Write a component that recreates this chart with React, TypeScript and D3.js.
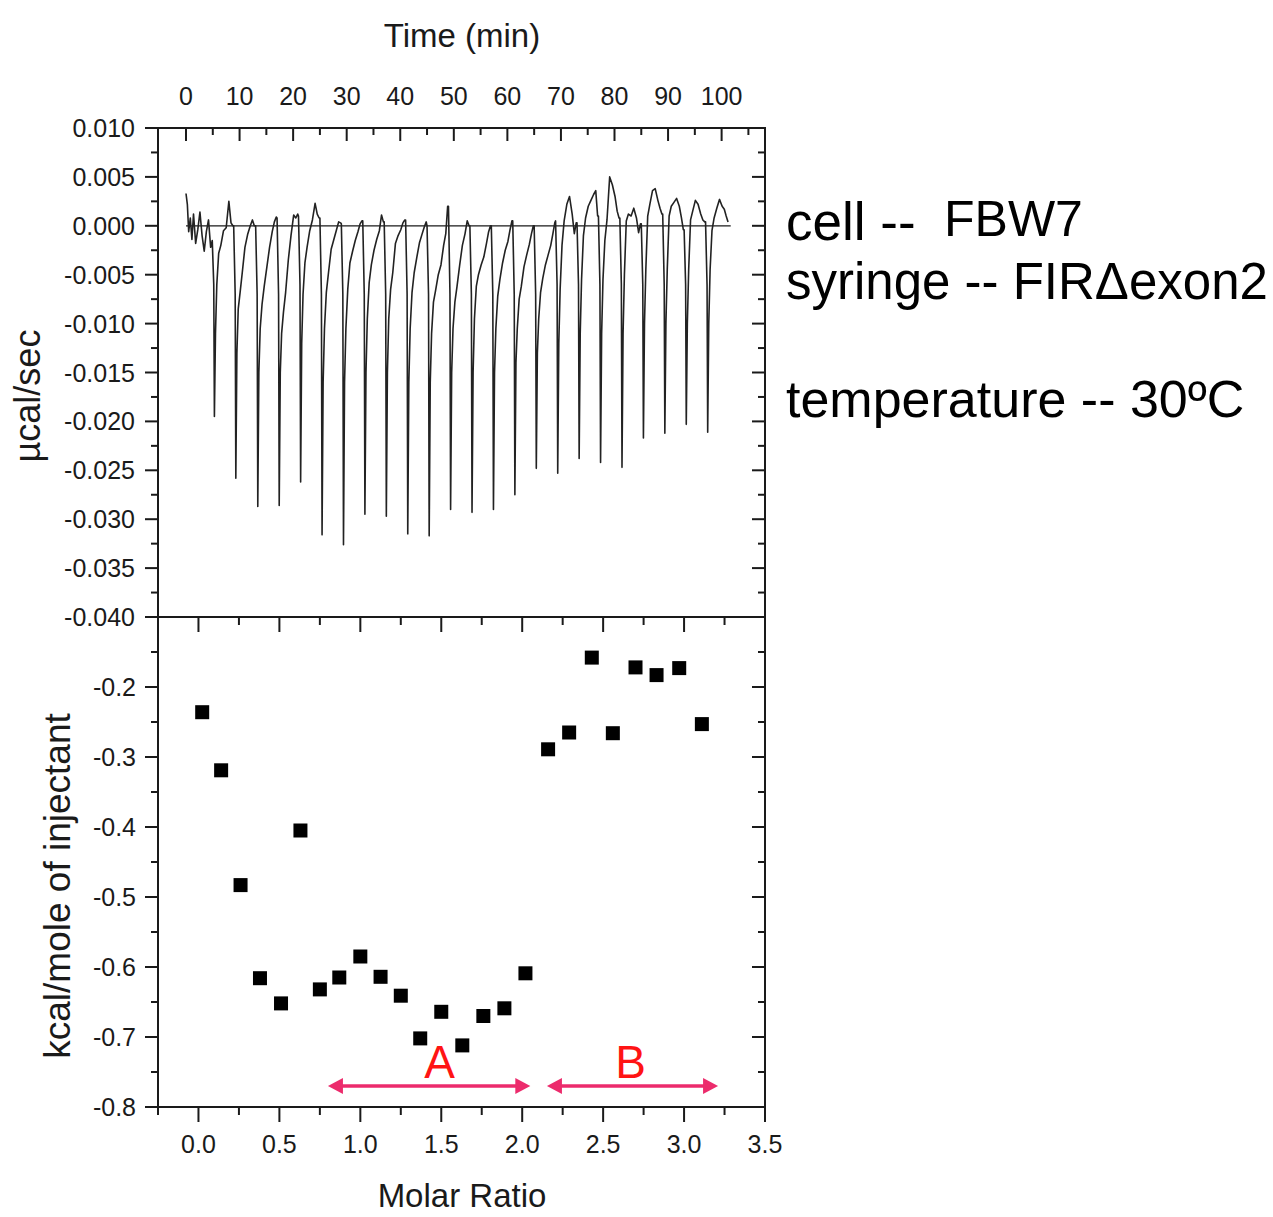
import { useEffect, useRef } from "react";
import * as d3 from "d3";

const WIDTH = 1273;
const HEIGHT = 1217;
const FONT = "'Liberation Sans', Arial, Helvetica, sans-serif";

// injection peak times (min)
const injectionTimes = [5.3, 9.3, 13.4, 17.4, 21.4, 25.4, 29.4, 33.4, 37.4, 41.4, 45.4, 49.4,
    53.4, 57.4, 61.4, 65.4, 69.4, 73.4, 77.4, 81.4, 85.4, 89.4, 93.4, 97.4];

// sample times relative to each injection peak (min)
const sampleOffsets = [-0.4, -0.12, 0, 0.2, 0.45, 0.8, 1.2, 1.7, 2.2, 2.7, 3.1, 3.45];

// µcal/sec at those offsets, one row per injection
const injectionTraces = [
    [-0.0015, -0.006, -0.0195, -0.011, -0.006, -0.0028, -0.002, -0.0005, -0.0002, 0.0025, 0.0003, 0.0],
    [0.0, -0.007, -0.0258, -0.013, -0.0085, -0.0068, -0.0048, -0.0022, -0.0009, 0.0, 0.0006, 0.0],
    [0.0, -0.007, -0.0287, -0.015, -0.0105, -0.008, -0.0062, -0.0042, -0.0022, -0.0006, 0.0004, 0.0009],
    [0.0008, -0.007, -0.0286, -0.015, -0.011, -0.0088, -0.0068, -0.0035, -0.001, 0.0011, 0.0008, 0.0012],
    [0.001, -0.006, -0.0262, -0.012, -0.007, -0.0038, -0.0022, -0.0005, 0.0006, 0.0023, 0.0012, 0.0008],
    [0.0008, -0.007, -0.0316, -0.016, -0.0105, -0.0068, -0.0048, -0.0024, -0.0014, -0.0004, 0.0004, 0.0003],
    [0.0002, -0.007, -0.0326, -0.016, -0.0105, -0.0065, -0.0038, -0.0026, -0.0015, -0.0006, 0.0002, 0.0005],
    [0.0005, -0.007, -0.0295, -0.015, -0.0095, -0.0058, -0.004, -0.0025, -0.0014, -0.0005, 0.0011, 0.0004],
    [0.0004, -0.007, -0.0297, -0.015, -0.0095, -0.0065, -0.0048, -0.0018, -0.001, -0.0004, 0.0003, 0.0006],
    [0.0006, -0.007, -0.0315, -0.016, -0.0105, -0.0068, -0.0048, -0.0032, -0.0017, -0.0008, -0.0001, 0.0004],
    [0.0, -0.007, -0.0317, -0.016, -0.011, -0.0078, -0.0066, -0.005, -0.004, -0.002, -0.0008, 0.002],
    [0.002, -0.007, -0.029, -0.015, -0.0105, -0.0078, -0.0062, -0.004, -0.002, -0.0008, 0.0005, 0.0],
    [0.0, -0.007, -0.0293, -0.015, -0.0095, -0.0062, -0.005, -0.004, -0.0032, -0.0018, -0.0006, 0.0],
    [0.0, -0.007, -0.029, -0.015, -0.0105, -0.0072, -0.0055, -0.0038, -0.0025, -0.0016, -0.0004, 0.0005],
    [0.0005, -0.007, -0.0275, -0.014, -0.0105, -0.0075, -0.0062, -0.0042, -0.003, -0.0019, -0.0008, 0.0],
    [0.0, -0.007, -0.0248, -0.013, -0.0095, -0.0068, -0.0054, -0.004, -0.003, -0.002, -0.0008, 0.0003],
    [0.0005, -0.006, -0.0253, -0.012, -0.0065, -0.002, 0.0005, 0.0022, 0.003, 0.0012, -0.0008, 0.0003],
    [0.0003, -0.006, -0.0238, -0.011, -0.0055, -0.001, 0.0008, 0.002, 0.0026, 0.0032, 0.0036, 0.001],
    [0.001, -0.006, -0.0242, -0.011, -0.0055, -0.0015, 0.0006, 0.005, 0.0042, 0.003, 0.0015, 0.0008],
    [0.0008, -0.006, -0.0247, -0.011, -0.005, 0.0005, 0.0012, 0.001, 0.0018, 0.0008, -0.0007, 0.0002],
    [0.0002, -0.006, -0.0217, -0.01, -0.0045, 0.001, 0.0022, 0.0036, 0.0038, 0.0026, 0.0018, 0.0012],
    [0.0012, -0.006, -0.0212, -0.01, -0.0045, 0.001, 0.002, 0.0024, 0.0028, 0.002, 0.0008, -0.0004],
    [-0.0004, -0.006, -0.0203, -0.01, -0.0045, 0.0006, 0.0015, 0.0026, 0.0022, 0.0012, 0.0006, 0.0004],
    [0.0004, -0.006, -0.0211, -0.01, -0.0045, -0.0005, 0.0008, 0.0018, 0.0027, 0.002, 0.0017, 0.001],
];

// baseline before the first injection and after the last one
const leadIn: [number, number][] = [
    [0, 0.0033], [0.25, 0.0022], [0.5, -0.0006], [0.8, 0.0008], [1.1, -0.0014], [1.4, 0.0012],
    [1.8, -0.0018], [2.2, -0.0004], [2.6, 0.0014], [3.0, -0.001], [3.4, -0.0026], [3.8, -0.0006],
    [4.2, 0.0006], [4.6, -0.0022],
];
const tail: [number, number][] = [[101.2, 0.0004]];
const baselineSpan = [0, 101.7];

// integrated heats
const molarRatio = [0.023, 0.14, 0.26, 0.38, 0.51, 0.63, 0.75, 0.87, 1.0, 1.125, 1.25, 1.37, 1.5,
    1.63, 1.76, 1.89, 2.02, 2.16, 2.29, 2.43, 2.56, 2.7, 2.83, 2.97, 3.11];
const heatPerMole = [-0.236, -0.319, -0.483, -0.616, -0.652, -0.405, -0.632, -0.615, -0.585, -0.614,
    -0.641, -0.702, -0.664, -0.712, -0.67, -0.659, -0.609, -0.289, -0.265, -0.158, -0.266, -0.172,
    -0.183, -0.173, -0.253];

// annotated ranges A and B (molar ratio)
const regions = [
    {label: "A", from: 0.8, to: 2.05, labelAt: 1.49},
    {label: "B", from: 2.153, to: 3.21, labelAt: 2.67},
];
const regionArrowY = -0.77;

const timeTicks = [0, 10, 20, 30, 40, 50, 60, 70, 80, 90, 100];
const powerTicks = [0.01, 0.005, 0, -0.005, -0.01, -0.015, -0.02, -0.025, -0.03, -0.035, -0.04];
const ratioTicks = [0, 0.5, 1, 1.5, 2, 2.5, 3, 3.5];
const heatTicks = [-0.2, -0.3, -0.4, -0.5, -0.6, -0.7, -0.8];

// experiment notes on the right
const infoLines = [
    {text: "cell --", x: 786, y: 240, size: 53},
    {text: "FBW7", x: 944, y: 236, size: 50},
    {text: "syringe -- FIR\u0394exon2", x: 786, y: 299, size: 51},
    {text: "temperature -- 30\u00baC", x: 786, y: 417, size: 52},
];

const App = () => {
    const svgRef = useRef<SVGSVGElement>(null);

    useEffect(() => {
        const svg = d3.select(svgRef.current);
        svg.selectAll("*").remove();

        const left = 158, right = 765;
        const topY = 128, midY = 617, bottomY = 1107;
        const ink = "#1a1a1a";

        const x = d3.scaleLinear().domain([-5.23, 108.1]).range([left, right]);
        const yTop = d3.scaleLinear().domain([-0.04, 0.01]).range([midY, topY]);
        const xr = d3.scaleLinear().domain([-0.25, 3.5]).range([left, right]);
        const yBot = d3.scaleLinear().domain([-0.8, -0.1]).range([bottomY, midY]);

        const g = svg.append("g").attr("font-family", FONT).attr("fill", ink);

        // thermogram: lead-in, injections, tail
        const trace: [number, number][] = [...leadIn];
        injectionTimes.forEach((t0, i) => {
            sampleOffsets.forEach((dt, j) => trace.push([t0 + dt, injectionTraces[i][j]]));
        });
        trace.push(...tail);

        g.append("line")
            .attr("x1", x(baselineSpan[0])).attr("x2", x(baselineSpan[1]))
            .attr("y1", yTop(0)).attr("y2", yTop(0))
            .attr("stroke", ink).attr("stroke-width", 1.2);

        const line = d3.line<[number, number]>().x(d => x(d[0])).y(d => yTop(d[1]));
        g.append("path")
            .datum(trace)
            .attr("d", line)
            .attr("fill", "none")
            .attr("stroke", "#222")
            .attr("stroke-width", 1.6)
            .attr("stroke-linejoin", "round");

        // heats
        const size = 14;
        g.selectAll("rect.pt")
            .data(molarRatio)
            .join("rect")
            .attr("class", "pt")
            .attr("x", d => xr(d) - size / 2)
            .attr("y", (d, i) => yBot(heatPerMole[i]) - size / 2)
            .attr("width", size)
            .attr("height", size)
            .attr("fill", "#000");

        // frames
        g.append("rect")
            .attr("x", left).attr("y", topY)
            .attr("width", right - left).attr("height", bottomY - topY)
            .attr("fill", "none").attr("stroke", ink).attr("stroke-width", 2);
        g.append("line")
            .attr("x1", left).attr("x2", right).attr("y1", midY).attr("y2", midY)
            .attr("stroke", ink).attr("stroke-width", 2);

        const tick = (x1: number, y1: number, x2: number, y2: number) =>
            g.append("line").attr("x1", x1).attr("y1", y1).attr("x2", x2).attr("y2", y2)
                .attr("stroke", ink).attr("stroke-width", 2);

        // time axis (top, inward ticks)
        d3.range(0, 106, 5).forEach(t => {
            const len = t % 10 === 0 ? 13 : 7;
            tick(x(t), topY, x(t), topY + len);
        });
        g.selectAll("text.time")
            .data(timeTicks)
            .join("text")
            .attr("class", "time")
            .attr("x", d => x(d))
            .attr("y", 105)
            .attr("text-anchor", "middle")
            .attr("font-size", 25)
            .text(d => d);

        // power axis: left outward, right inward
        d3.range(-0.04, 0.0101, 0.0025).forEach(v => {
            const major = Math.abs(Math.round(v * 400) % 2) === 0;
            const len = major ? 13 : 7;
            tick(left - len, yTop(v), left, yTop(v));
            tick(right - len, yTop(v), right, yTop(v));
        });
        g.selectAll("text.power")
            .data(powerTicks)
            .join("text")
            .attr("class", "power")
            .attr("x", 135)
            .attr("y", d => yTop(d))
            .attr("dy", "0.36em")
            .attr("text-anchor", "end")
            .attr("font-size", 25)
            .text(d => d3.format(".3f")(d).replace("\u2212", "-"));

        // molar ratio axis: inward on top of lower panel, outward at the bottom
        d3.range(-0.25, 3.51, 0.25).forEach(r => {
            const major = Math.round(r * 4) % 2 === 0;
            tick(xr(r), midY, xr(r), midY + (major ? 15 : 8));
            tick(xr(r), bottomY, xr(r), bottomY + (major ? 15 : 8));
        });
        g.selectAll("text.ratio")
            .data(ratioTicks)
            .join("text")
            .attr("class", "ratio")
            .attr("x", d => xr(d))
            .attr("y", 1153)
            .attr("text-anchor", "middle")
            .attr("font-size", 25)
            .text(d => d3.format(".1f")(d));

        // heat axis: left outward, right inward
        d3.range(-0.8, -0.099, 0.05).forEach(v => {
            const major = Math.round(v * 20) % 2 === 0;
            const len = major ? 13 : 7;
            tick(left - len, yBot(v), left, yBot(v));
            tick(right - len, yBot(v), right, yBot(v));
        });
        g.selectAll("text.heat")
            .data(heatTicks)
            .join("text")
            .attr("class", "heat")
            .attr("x", 136)
            .attr("y", d => yBot(d))
            .attr("dy", "0.36em")
            .attr("text-anchor", "end")
            .attr("font-size", 25)
            .text(d => d3.format(".1f")(d).replace("\u2212", "-"));

        // axis titles
        g.append("text").attr("x", 462).attr("y", 47).attr("text-anchor", "middle")
            .attr("font-size", 33).text("Time (min)");
        g.append("text").attr("x", 462).attr("y", 1207).attr("text-anchor", "middle")
            .attr("font-size", 33).text("Molar Ratio");
        g.append("text").attr("transform", "translate(40,396) rotate(-90)")
            .attr("text-anchor", "middle").attr("font-size", 36).text("\u00b5cal/sec");
        g.append("text").attr("transform", "translate(70,886) rotate(-90)")
            .attr("text-anchor", "middle").attr("font-size", 37).text("kcal/mole of injectant");

        // region arrows
        const pink = "#ec2b6c";
        const head = (tipX: number, dir: number, y: number) => {
            g.append("path")
                .attr("d", `M${tipX},${y} L${tipX - dir * 15},${y - 8} L${tipX - dir * 15},${y + 8} Z`)
                .attr("fill", pink);
        };
        regions.forEach(r => {
            const y = yBot(regionArrowY);
            g.append("line")
                .attr("x1", xr(r.from) + 6).attr("x2", xr(r.to) - 6)
                .attr("y1", y).attr("y2", y)
                .attr("stroke", pink).attr("stroke-width", 3.5);
            head(xr(r.from), -1, y);
            head(xr(r.to), 1, y);
            g.append("text")
                .attr("x", xr(r.labelAt)).attr("y", y - 8)
                .attr("text-anchor", "middle")
                .attr("font-size", 46)
                .attr("fill", "#ff1414")
                .text(r.label);
        });

        // experiment notes
        g.selectAll("text.info")
            .data(infoLines)
            .join("text")
            .attr("class", "info")
            .attr("x", d => d.x)
            .attr("y", d => d.y)
            .attr("font-size", d => d.size)
            .attr("fill", "#000")
            .text(d => d.text);
    }, []);

    return (
        <svg ref={svgRef} width={WIDTH} height={HEIGHT}
             style={{position: "absolute", left: 0, top: 0, background: "#fff"}}/>
    );
};

export default App;
